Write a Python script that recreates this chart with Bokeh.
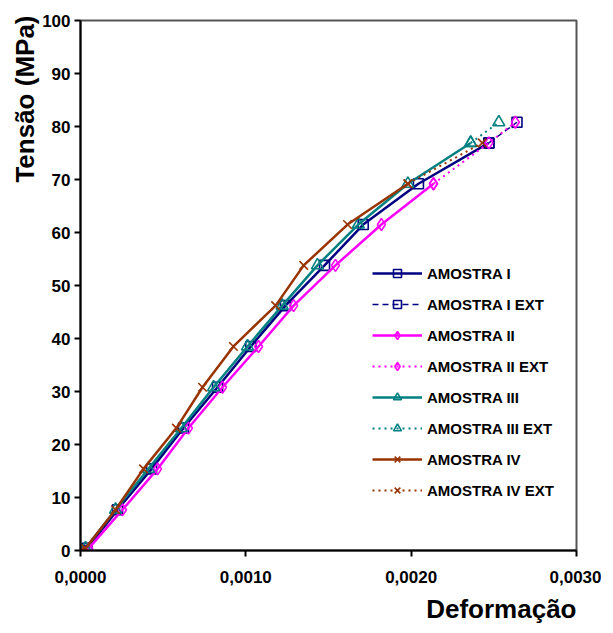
from bokeh.plotting import figure
from bokeh.models import (Legend, LegendItem, Title, CustomJSTickFormatter,
                          FixedTicker, Range1d)
from bokeh.embed import file_html
from bokeh.resources import INLINE

# ---- data ----
stress = [0, 0.4, 7.7, 15.4, 23.1, 30.8, 38.5, 46.2, 53.8, 61.5, 69.2, 76.9, 80.8]

strain_I = [0, 0.00004, 0.000224, 0.00043, 0.000623, 0.000829, 0.00103,
            0.00124, 0.001476, 0.00171, 0.002044, 0.00247]
strain_I_ext = [0.00247, 0.00264]
stress_I_ext = [76.9, 80.8]

strain_II = [0, 0.00005, 0.000254, 0.000466, 0.000653, 0.000859, 0.001077,
             0.001289, 0.001542, 0.00182, 0.002135]
strain_II_ext = [0.002135, 0.00247, 0.00263]
stress_II_ext = [69.2, 76.9, 80.8]

strain_III = [0, 0.00003, 0.000212, 0.000411, 0.00061, 0.000805, 0.00101,
              0.00122, 0.001433, 0.00168, 0.00198, 0.00236]
strain_III_ext = [0.00236, 0.00253]
stress_III_ext = [76.9, 80.8]

strain_IV = [0, 0.00003, 0.000212, 0.000381, 0.00058, 0.000738, 0.000925,
             0.00118, 0.00135, 0.001615, 0.00198]
strain_IV_ext = [0.00198, 0.00243]
stress_IV_ext = [69.2, 76.9]

x_ticks = [0, 0.001, 0.002, 0.003]
y_ticks = list(range(0, 101, 10))

FONT = "Liberation Sans"

p = figure(frame_width=496, frame_height=530,
           x_range=Range1d(0, 0.003), y_range=Range1d(0, 100),
           output_backend="svg", toolbar_location=None,
           min_border_left=80, min_border_top=20,
           min_border_right=25, min_border_bottom=75)
p.xgrid.visible = False
p.ygrid.visible = False
p.outline_line_color = "#555555"
p.outline_line_width = 2
p.background_fill_color = "white"

for ax in (p.xaxis[0], p.yaxis[0]):
    ax.axis_line_width = 2
    ax.axis_line_color = "black"
    ax.major_tick_line_width = 2
    ax.major_tick_line_color = "black"
    ax.major_tick_in = 0
    ax.major_tick_out = 6
    ax.minor_tick_line_color = None
    ax.major_label_text_font = FONT
    ax.major_label_text_font_style = "bold"
    ax.major_label_text_font_size = "17px"
    ax.major_label_text_color = "black"

p.xaxis.ticker = FixedTicker(ticks=x_ticks)
p.yaxis.ticker = FixedTicker(ticks=y_ticks)
p.xaxis.formatter = CustomJSTickFormatter(code="return tick.toFixed(4).replace('.', ',');")
p.xaxis.major_label_standoff = 14
p.yaxis.major_label_standoff = 4

NAVY = "#000080"
MAG = "#FF00FF"
TEAL = "#008080"
BROWN = "#993300"

def series(xs, ys, color, marker, size, dash="solid", lw=2.5):
    r1 = p.line(xs, ys, line_color=color, line_width=lw, line_dash=dash)
    r2 = p.scatter(xs, ys, marker=marker, size=size, line_color=color,
                   fill_alpha=0, line_width=1.6)
    return [r1, r2]

items = []
items.append(LegendItem(label="AMOSTRA I",
             renderers=series(strain_I, stress[:len(strain_I)], NAVY, "square", 10)))
items.append(LegendItem(label="AMOSTRA I EXT",
             renderers=series(strain_I_ext, stress_I_ext, NAVY, "square", 10, "6 4", 1.5)))
items.append(LegendItem(label="AMOSTRA II",
             renderers=series(strain_II, stress[:len(strain_II)], MAG, "diamond", 12)))
items.append(LegendItem(label="AMOSTRA II EXT",
             renderers=series(strain_II_ext, stress_II_ext, MAG, "diamond", 12, "2 4", 2)))
items.append(LegendItem(label="AMOSTRA III",
             renderers=series(strain_III, stress[:len(strain_III)], TEAL, "triangle", 12)))
items.append(LegendItem(label="AMOSTRA III EXT",
             renderers=series(strain_III_ext, stress_III_ext, TEAL, "triangle", 12, "2 4", 2)))
items.append(LegendItem(label="AMOSTRA IV",
             renderers=series(strain_IV, stress[:len(strain_IV)], BROWN, "x", 12)))
items.append(LegendItem(label="AMOSTRA IV EXT",
             renderers=series(strain_IV_ext, stress_IV_ext, BROWN, "x", 12, "2 4", 2)))

legend = Legend(items=items, location=(292, 50),
                label_text_font=FONT, label_text_font_style="bold",
                label_text_font_size="15px", label_text_color="black",
                glyph_width=50, glyph_height=20, label_height=20,
                label_standoff=5, spacing=11, padding=0, margin=0,
                border_line_alpha=0, background_fill_alpha=0)
p.add_layout(legend)

p.add_layout(Title(text="Tensão (MPa)", align="right",
                   text_font=FONT, text_font_style="bold",
                   text_font_size="26px", text_color="black",
                   offset=-5, standoff=0), "left")
p.add_layout(Title(text="Deformação", align="right",
                   text_font=FONT, text_font_style="bold",
                   text_font_size="26px", text_color="black",
                   offset=0, standoff=12), "below")

open("out.html", "w").write(file_html(p, INLINE))
